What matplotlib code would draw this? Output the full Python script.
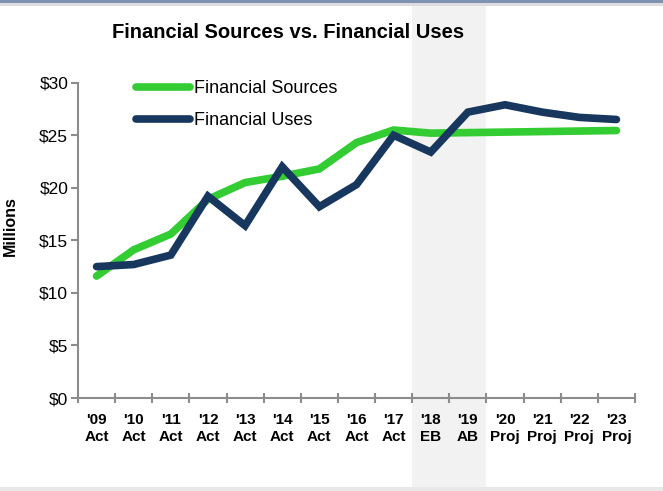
import matplotlib
matplotlib.use("Agg")
import matplotlib.pyplot as plt
from matplotlib.patches import Rectangle
import matplotlib.transforms as mtransforms

plt.rcParams['font.family'] = ['Liberation Sans', 'DejaVu Sans']

years = ["'09", "'10", "'11", "'12", "'13", "'14", "'15", "'16", "'17", "'18", "'19", "'20", "'21", "'22", "'23"]
kinds = ["Act", "Act", "Act", "Act", "Act", "Act", "Act", "Act", "Act", "EB", "AB", "Proj", "Proj", "Proj", "Proj"]
sources = [11.6, 14.1, 15.6, 18.9, 20.5, 21.1, 21.8, 24.3, 25.5, 25.2, 25.25, 25.3, 25.35, 25.4, 25.45]
uses = [12.5, 12.7, 13.6, 19.2, 16.4, 22.0, 18.2, 20.3, 25.0, 23.4, 27.2, 27.9, 27.2, 26.7, 26.5]
yticks = [0, 5, 10, 15, 20, 25, 30]
shade_start, shade_end = 9, 10

W, H = 663, 491
fig = plt.figure(figsize=(W / 100, H / 100), dpi=100)
fig.patch.set_facecolor('white')

# top/bottom frame bands
fig.patches.append(Rectangle((0, 1 - 3 / H), 1, 3 / H, transform=fig.transFigure,
                             facecolor='#7f93b0', edgecolor='none', zorder=0))
fig.patches.append(Rectangle((0, 1 - 6 / H), 1, 3 / H, transform=fig.transFigure,
                             facecolor='#dcdcdc', edgecolor='none', zorder=0))
fig.patches.append(Rectangle((0, 0), 1, 4 / H, transform=fig.transFigure,
                             facecolor='#e8e8e8', edgecolor='none', zorder=0))

ax = fig.add_axes([78 / W, 1 - 398 / H, (635 - 78) / W, (398 - 82.7) / H])
ax.set_facecolor('none')

x = list(range(len(years)))
ax.set_xlim(-0.5, len(years) - 0.5)
ax.set_ylim(0, 30)

# shaded band spanning full figure height
trans = mtransforms.blended_transform_factory(ax.transData, fig.transFigure)
band = Rectangle((shade_start - 0.5, 4 / H), (shade_end - shade_start + 1), 1 - 10 / H,
                 transform=trans, facecolor='#f2f2f2', edgecolor='none',
                 clip_on=False, zorder=0.1)
ax.add_patch(band)

ax.plot(x, sources, color='#33cc33', lw=5.5, solid_capstyle='round',
        solid_joinstyle='miter', label='Financial Sources', zorder=3)
ax.plot(x, uses, color='#17375e', lw=5.5, solid_capstyle='round',
        solid_joinstyle='miter', label='Financial Uses', zorder=4)

for s in ['top', 'right']:
    ax.spines[s].set_visible(False)
for s in ['left', 'bottom']:
    ax.spines[s].set_color('#8c8c8c')
    ax.spines[s].set_linewidth(1.5)

ax.set_yticks(yticks)
ax.set_yticklabels([f'${v}' for v in yticks], fontsize=12.5)
ax.tick_params(axis='y', direction='out', length=5, width=1.5, color='#8c8c8c', pad=2)

ax.set_xticks([i - 0.5 for i in range(len(years) + 1)], minor=False)
ax.set_xticklabels([])
ax.set_xticks(x, minor=True)
ax.set_xticklabels([f'{y}\n{k}' for y, k in zip(years, kinds)], minor=True,
                   fontsize=11, fontweight='bold', linespacing=1.25)
ax.tick_params(axis='x', which='major', direction='inout', length=7, width=1.5, color='#8c8c8c')
ax.tick_params(axis='x', which='minor', length=0, pad=11)

ax.set_ylabel('Millions', fontsize=11.5, fontweight='bold')
ax.yaxis.set_label_coords(-0.108, 0.546)

leg = ax.legend(loc='upper left', bbox_to_anchor=(0.092, 1.03), frameon=False,
                fontsize=13, handlelength=2.95, handletextpad=0.25, labelspacing=0.8,
                borderaxespad=0)

fig.text(288 / W, 1 - 32 / H, 'Financial Sources vs. Financial Uses', ha='center', va='center',
         fontsize=14.5, fontweight='bold')

fig.savefig('out.png', dpi=100)
